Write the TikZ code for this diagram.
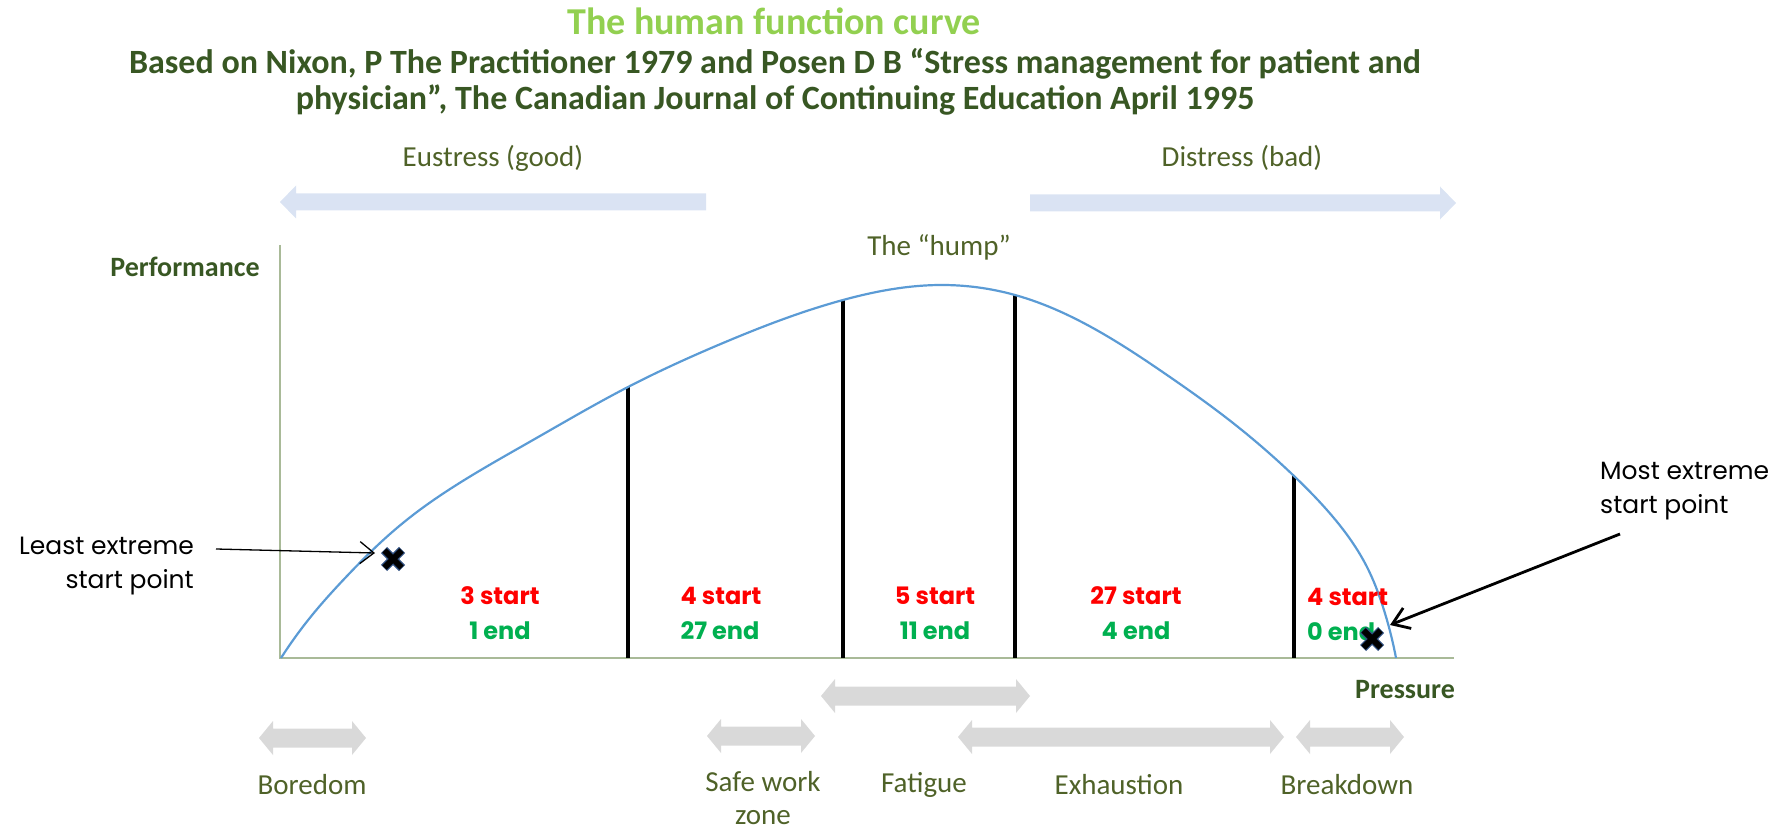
\documentclass[tikz,border=0pt]{standalone}
\usepackage{fontspec}
\setmainfont{Carlito}
\newfontfamily\gothic{Poppins}
\usetikzlibrary{arrows.meta,calc,hobby}

\definecolor{titlegreen}{HTML}{92D050}
\definecolor{headgreen}{HTML}{385723}
\definecolor{labgreen}{HTML}{4F6228}
\definecolor{endgreen}{HTML}{00B050}
\definecolor{startred}{HTML}{FF0000}
\definecolor{curveblue}{HTML}{5B9BD5}
\definecolor{axisgreen}{HTML}{A9BA98}
\definecolor{bandgray}{HTML}{D9D9D9}
\definecolor{bandblue}{HTML}{DAE3F3}
\definecolor{crossedge}{HTML}{2F4F80}

% double-headed block arrow: x1, x2, y, fill colour
\newcommand\dblband[4]{%
  \fill[#4] (#1,#3) -- (#1+14,#3-17) -- (#1+14,#3-9.5) -- (#2-14,#3-9.5)
    -- (#2-14,#3-17) -- (#2,#3) -- (#2-14,#3+17) -- (#2-14,#3+9.5)
    -- (#1+14,#3+9.5) -- (#1+14,#3+17) -- cycle;}

% bold cross marker at a named coordinate
\newcommand\startcross[1]{%
  \begin{scope}[shift={(#1)}]
    \draw[line width=8.5pt, crossedge] (-9,-9) -- (9,9) (-9,9) -- (9,-9);
    \draw[line width=6pt, black] (-8.6,-8.6) -- (8.6,8.6) (-8.6,8.6) -- (8.6,-8.6);
  \end{scope}}

\tikzset{
  lbl/.style={font=\fontsize{29}{33}\selectfont, text=labgreen, inner sep=0pt},
  axlbl/.style={font=\bfseries\fontsize{28}{33}\selectfont, text=headgreen, inner sep=0pt},
  startlbl/.style={font=\gothic\bfseries\fontsize{24}{28}\selectfont, text=startred, inner sep=0pt},
  endlbl/.style={font=\gothic\bfseries\fontsize{24}{28}\selectfont, text=endgreen, inner sep=0pt},
  note/.style={font=\gothic\fontsize{25}{34}\selectfont, text=black, inner sep=0pt},
  axisline/.style={line width=2.5pt, axisgreen},
  humpcurve/.style={line width=2.2pt, curveblue},
  divider/.style={line width=4.5pt, black},
}

\begin{document}
\begin{tikzpicture}[x=1pt,y=-1pt]
\useasboundingbox (0,0) rectangle (1791,829);

% headings
\node[font=\bfseries\fontsize{38}{44}\selectfont, text=titlegreen, inner sep=0pt] (title) at (774,21) {The human function curve};
\node[font=\bfseries\fontsize{34}{36}\selectfont, text=headgreen, align=center, inner sep=0pt] (source) at (775,82)
  {Based on Nixon, P The Practitioner 1979 and Posen D B “Stress management for patient and\\physician”, The Canadian Journal of Continuing Education April 1995};

% eustress / distress direction bands
\node[lbl] (eu) at (493,158) {Eustress (good)};
\node[lbl] (dis) at (1242,158) {Distress (bad)};
\fill[bandblue] (280,202) -- (296,185.5) -- (296,193.5) -- (706,193.5) -- (706,210.5) -- (296,210.5) -- (296,218.5) -- cycle;
\fill[bandblue] (1456,203) -- (1440,186.5) -- (1440,194.5) -- (1030,194.5) -- (1030,211.5) -- (1440,211.5) -- (1440,219.5) -- cycle;

\node[lbl] (hump) at (939,247) {The “hump”};

% axes
\coordinate (O) at (280,658);
\coordinate (ytop) at (280,245);
\coordinate (xend) at (1454,658);
\draw[axisline] (ytop) -- (O) -- (xend);
\node[axlbl] (perf) at (185,267) {Performance};
\node[axlbl] (press) at (1405,690) {Pressure};

% zone dividers, topped on the curve
\coordinate (v1) at (628,387);
\coordinate (v2) at (843,300);
\coordinate (v3) at (1015,295);
\coordinate (v4) at (1294,476);
\foreach \v in {v1,v2,v3,v4}
  \draw[divider] (\v) -- (\v |- O);

% performance curve
\draw[humpcurve, use Hobby shortcut]
  (281,658) .. (313,614) .. (347,576) .. (380,543) .. (413,515) .. (447,491)
  .. (533,440) .. (628,387) .. (723,343) .. (843,300) .. (940,285) .. (1015,295)
  .. (1100,332) .. (1167,375) .. (1233,423) .. (1294,476) .. (1333,517)
  .. (1367,567) .. (1383,607) .. (1396,658);

% counts per zone
\node[startlbl] (s1) at (500,596) {3 start};
\node[endlbl]   (e1) at (500,631) {1 end};
\node[startlbl] (s2) at (721,596) {4 start};
\node[endlbl]   (e2) at (720,631) {27 end};
\node[startlbl] (s3) at (935,596) {5 start};
\node[endlbl]   (e3) at (935,631) {11 end};
\node[startlbl] (s4) at (1136,596) {27 start};
\node[endlbl]   (e4) at (1136,631) {4 end};
\node[startlbl, anchor=west] (s5) at (1307,597) {4 start};
\node[endlbl, anchor=west]   (e5) at (1307,632) {0 end};

% start point markers and callouts
\coordinate (leastx) at (393,559);
\coordinate (mostx) at (1372,639);
\startcross{leastx}
\startcross{mostx}

\node[note, align=right, anchor=east] (leastnote) at (194,566) {Least extreme\\start point};
\node[note, align=left, anchor=west] (mostnote) at (1600,491) {Most extreme\\start point};
\coordinate (leasttail) at (216,549);
\coordinate (leasttip) at (375,553);
\coordinate (mosttail) at (1620,534);
\coordinate (mosttip) at (1390,625);
\draw[line width=1.3pt, -{Straight Barb[length=14pt,width=22pt]}] (leasttail) -- (leasttip);
\draw[line width=2.8pt, -{Straight Barb[length=16pt,width=22pt]}] (mosttail) -- (mosttip);

% phase bands
\dblband{259}{366}{738}{bandgray}
\dblband{821}{1030}{696}{bandgray}
\dblband{707}{815}{736}{bandgray}
\dblband{958}{1284}{737}{bandgray}
\dblband{1296}{1404}{737}{bandgray}

\node[lbl] (bore) at (312,785) {Boredom};
\node[lbl, align=center, anchor=north] (safe) at (763,771) {Safe work\\zone};
\node[lbl] (fat) at (924,785) {Fatigue};
\node[lbl] (exh) at (1119,785) {Exhaustion};
\node[lbl] (brk) at (1347,785) {Breakdown};
\end{tikzpicture}
\end{document}
